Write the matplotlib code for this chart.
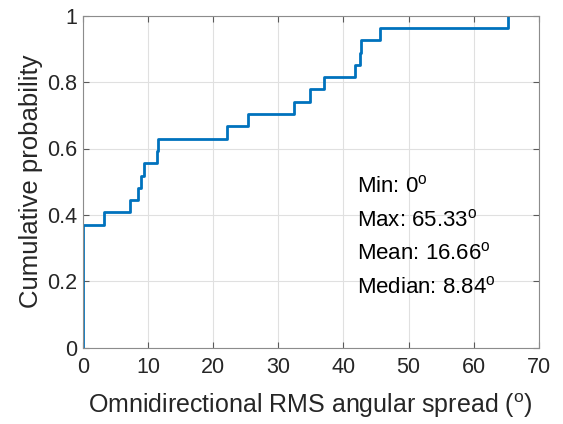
import numpy as np
import matplotlib
matplotlib.use("Agg")
import matplotlib.pyplot as plt

plt.rcParams['font.family'] = ['Liberation Sans', 'DejaVu Sans']
plt.rcParams['mathtext.fontset'] = 'custom'
plt.rcParams['mathtext.rm'] = 'Liberation Sans'
plt.rcParams['mathtext.it'] = 'Liberation Sans:italic'

# Sample values (degrees) read from the empirical CDF steps
spread = [0, 0, 0, 0, 0, 0, 0, 0, 0, 0,
          3.22, 7.15, 8.38, 8.84, 9.36, 11.30, 11.45, 22.15, 25.42,
          32.39, 34.8, 37.04, 41.85, 42.57, 42.7, 45.69, 65.33]
stats_labels = ["Min", "Max", "Mean", "Median"]
stats_values = ["0", "65.33", "16.66", "8.84"]
xticks = [0, 10, 20, 30, 40, 50, 60, 70]
yticks = [0, 0.2, 0.4, 0.6, 0.8, 1]

x = np.sort(np.array(spread))
n = len(x)
xs = np.concatenate([[x[0]], x])
ys = np.concatenate([[0], np.arange(1, n + 1) / n])

fig = plt.figure(figsize=(5.63, 4.24), dpi=100)
ax = fig.add_axes([83 / 563, 1 - 347.7 / 424, (538.7 - 83) / 563, (347.7 - 15.7) / 424])
ax.step(xs, ys, where='post', color='#0072BD', linewidth=2.0)

ax.set_xlim(0, 70)
ax.set_ylim(0, 1)
ax.set_xticks(xticks)
ax.set_yticks(yticks)
ax.set_yticklabels(['0', '0.2', '0.4', '0.6', '0.8', '1'])
ax.grid(True, color='#e0e0e0', linewidth=0.8)
ax.set_axisbelow(True)
for s in ax.spines.values():
    s.set_color('#8c8c8c')
    s.set_linewidth(0.8)
ax.tick_params(direction='in', top=True, right=True, length=4, color='#5a5a5a',
               labelsize=15.5, labelcolor='#262626', width=0.8)
ax.tick_params(axis='x', pad=7)
ax.tick_params(axis='y', pad=4)
ax.set_xlabel('Omnidirectional RMS angular spread ($^{\\mathrm{o}}$)', fontsize=18,
              color='#262626', labelpad=9)
ax.set_ylabel('Cumulative probability', fontsize=18.5, color='#262626', labelpad=3)

y0 = 186.7
for i, (lab, val) in enumerate(zip(stats_labels, stats_values)):
    fig.text(357 / 563, 1 - (y0 + i * 33.5) / 424, f'{lab}: {val}$^{{\\mathrm{{o}}}}$',
             fontsize=16, color='#000000', va='center', ha='left')

fig.savefig('out.png', dpi=100)
